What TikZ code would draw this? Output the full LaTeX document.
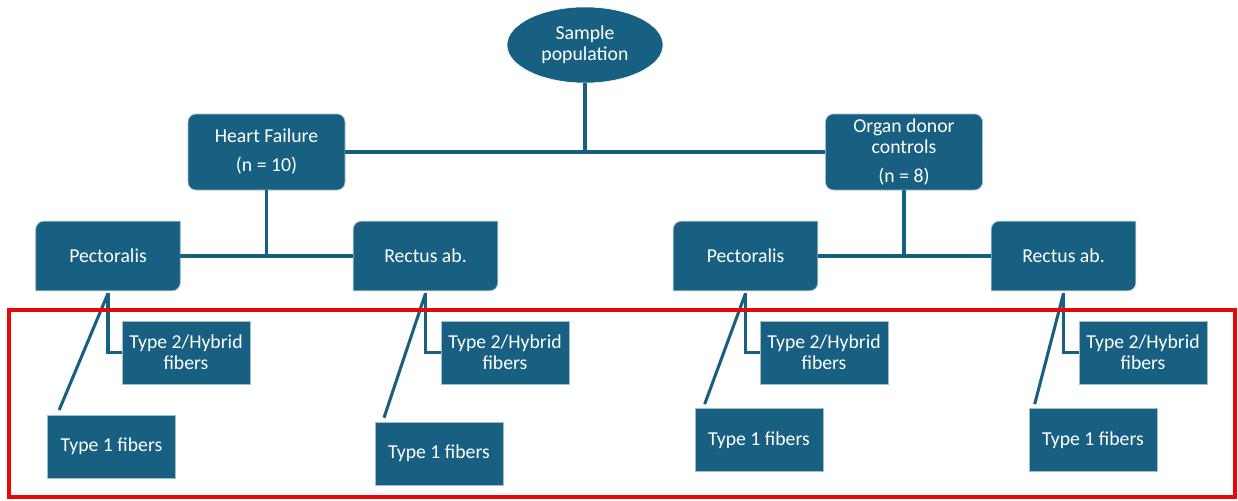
\documentclass[tikz,border=0pt]{standalone}
\usepackage{fontspec}
\setmainfont{Carlito}
\usepackage{tikz}
\usetikzlibrary{shapes,positioning,backgrounds}
\usepackage{xcolor}
\definecolor{boxblue}{RGB}{24,96,130}
\definecolor{edgeblue}{RGB}{160,190,210}
\definecolor{markred}{RGB}{232,8,8}
\tikzset{
    boxtext/.style={text=white, align=center, font=\fontsize{14.8}{15.75}\selectfont, inner sep=0pt},
    popnode/.style={ellipse, fill=boxblue, draw=white, thin, boxtext, minimum width=117pt, minimum height=57pt},
    group/.style={rectangle, rounded corners=6pt, fill=boxblue, draw=edgeblue, line width=0.5pt, boxtext, minimum width=117.75pt, minimum height=57pt},
    muscle/.style={rectangle, boxtext, minimum width=108pt, minimum height=51.75pt},
    fiber/.style={rectangle, fill=boxblue, draw=edgeblue, line width=0.5pt, boxtext, minimum width=96pt, minimum height=47.25pt},
    link/.style={draw=boxblue, line width=2.3pt},
    highlight/.style={draw=markred, line width=2.7pt},
}

\begin{document}
\begin{tikzpicture}[x=0.75pt, y=-0.75pt]
    \useasboundingbox (0,0) rectangle (1238,500);
    % top level
    \node[popnode] (sample) at (585,45) {Sample\\population};
    \node[group] (hf) at (266.5,152) {Heart Failure\\[6pt](n = 10)};
    \node[group] (od) at (904,152) {Organ donor\\controls\\[6pt](n = 8)};
    \draw[link] (hf.east) -- (od.west);
    \draw[link] (sample.south) -- (sample.south |- hf.east);
    % muscles
    \node[muscle] (hfpec) at (108,256) {Pectoralis};
    \node[muscle] (hfrec) at (425.5,256) {Rectus ab.};
    \node[muscle] (odpec) at (745.5,256) {Pectoralis};
    \node[muscle] (odrec) at (1063.5,256) {Rectus ab.};
    \begin{scope}[on background layer]
        \foreach \m in {hfpec,hfrec,odpec,odrec}
            \draw[fill=boxblue, draw=edgeblue, line width=0.5pt]
                (\m.south west) -- ([yshift=-6pt]\m.north west)
                arc[start angle=180, end angle=90, radius=6pt]
                -- (\m.north east) -- ([yshift=6pt]\m.south east)
                arc[start angle=0, end angle=-90, radius=6pt] -- cycle;
    \end{scope}
    \draw[link] (hfpec.east) -- (hfrec.west);
    \draw[link] (hf.south) -- (hf.south |- hfpec.east);
    \draw[link] (odpec.east) -- (odrec.west);
    \draw[link] (od.south) -- (od.south |- odpec.east);
    % fiber types
    \node[fiber] (hfpec2) at (186,352.5) {Type 2/Hybrid\\fibers};
    \node[fiber] (hfpec1) at (111.5,446.5) {Type 1 fibers};
    \node[fiber] (hfrec2) at (505,352.5) {Type 2/Hybrid\\fibers};
    \node[fiber] (hfrec1) at (439,453.5) {Type 1 fibers};
    \node[fiber] (odpec2) at (824,352.5) {Type 2/Hybrid\\fibers};
    \node[fiber] (odpec1) at (759,440) {Type 1 fibers};
    \node[fiber] (odrec2) at (1143,352.5) {Type 2/Hybrid\\fibers};
    \node[fiber] (odrec1) at (1093,440) {Type 1 fibers};
    \draw[link] ([yshift=-2pt]hfpec.south) |- (hfpec2.west);
    \draw[link] ([yshift=-2pt]hfpec.south) -- ([shift={(9pt,3.5pt)}]hfpec1.north west);
    \draw[link] ([yshift=-2pt]hfrec.south) |- (hfrec2.west);
    \draw[link] ([yshift=-2pt]hfrec.south) -- ([shift={(7pt,3pt)}]hfrec1.north west);
    \draw[link] ([yshift=-2pt]odpec.south) |- (odpec2.west);
    \draw[link] ([yshift=-2pt]odpec.south) -- ([shift={(7.5pt,3pt)}]odpec1.north west);
    \draw[link] ([yshift=-2pt]odrec.south) |- (odrec2.west);
    \draw[link] ([yshift=-2pt]odrec.south) -- ([shift={(4.5pt,3pt)}]odrec1.north west);
    % highlighted fiber level
    \draw[highlight] (9,310) rectangle (1235,497);
\end{tikzpicture}
\end{document}
